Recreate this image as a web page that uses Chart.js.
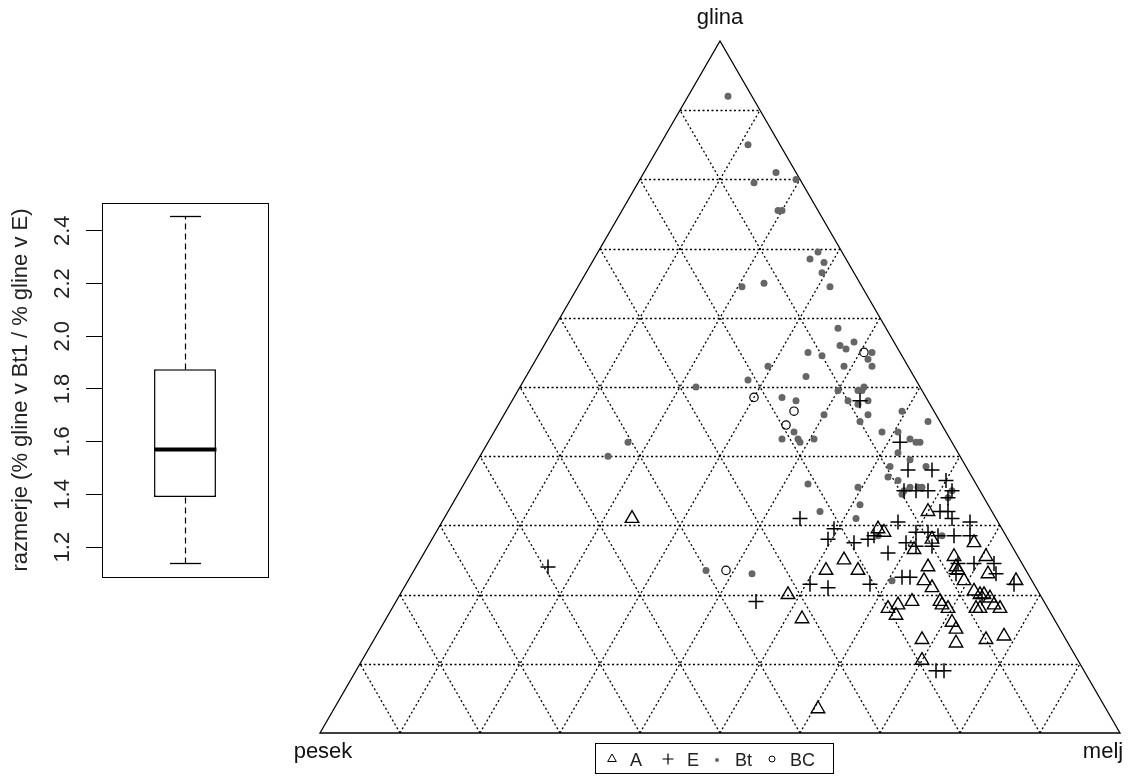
<!DOCTYPE html>
<html>
<head>
<meta charset="utf-8">
<script src="https://cdn.jsdelivr.net/npm/chart.js@4.4.1/dist/chart.umd.min.js"></script>
<style>
  html, body { margin: 0; padding: 0; background: #fff; }
  #wrap { position: relative; width: 1148px; height: 777px; overflow: hidden; }
  .pane { position: absolute; top: 0; }
</style>
</head>
<body>
<div id="wrap">
  <div class="pane" style="left:0;width:290px;height:777px"><canvas id="boxCanvas"></canvas></div>
  <div class="pane" style="left:290px;width:858px;height:777px"><canvas id="ternCanvas"></canvas></div>
</div>
<script>
// ---- boxplot data ----
const boxLabels = ['Bt1 / E'];
const boxStats = [1.14, 1.39, 1.57, 1.875, 2.455]; // low whisker, Q1, median, Q3, high whisker
const boxTicks = [1.2, 1.4, 1.6, 1.8, 2.0, 2.2, 2.4];
const boxRange = [1.0865, 2.5055];
const boxTitle = 'razmerje (% gline v Bt1 / % gline v E)';

// ---- ternary data (clay % / silt %, sand is the rest) ----
const cornerLabels = ['glina', 'pesek', 'melj'];
const gridSteps = [10, 20, 30, 40, 50, 60, 70, 80, 90];
const horizons = ['A', 'E', 'Bt', 'BC'];

const clayA = [31, 3.5, 20, 16.5, 25, 23.5, 23.5, 29.5, 29, 32, 28, 26.5, 24, 22, 21, 19, 18.5, 18, 17, 19, 18.5, 18, 16, 15, 13, 13.5, 10.5, 25.5, 24, 23.5, 22, 20.5, 20, 20, 19.5, 18, 18, 18.5, 18, 13.5, 14, 27.5, 25.5, 23, 22];
const siltA = [23.5, 60.5, 48.5, 52, 53, 51.5, 55.5, 55, 56, 60, 62.5, 61, 64, 64.5, 66, 64.5, 63, 62, 63.5, 68, 68.5, 69.5, 71, 72, 73, 68.5, 70, 66.5, 67.5, 68, 69.5, 71.5, 72.5, 73, 74, 73, 73.5, 75, 76, 76.5, 78.5, 68, 70.5, 72, 76];

const clayE = [24, 19, 31, 29.5, 28, 27.5, 28, 21.5, 21, 48, 42, 38, 38, 36.5, 35, 34, 35, 35, 35, 32, 32, 31, 30.5, 28.5, 30.5, 28.5, 29, 29, 28.5, 28.5, 27.5, 26, 21.5, 22.5, 22.5, 27, 27, 24.5, 23, 24.5, 24.5, 23, 21.5, 9, 9, 19.5];
const siltE = [16.5, 45, 44.5, 49.5, 49.5, 53, 54.5, 50.5, 53, 43.5, 51.5, 54.5, 57.5, 60, 61.5, 61.5, 55.5, 57, 58.5, 61.5, 62.5, 63.5, 66, 67, 57, 55, 60, 61.5, 63, 65, 59.5, 58, 58, 61.5, 62.5, 61, 63, 67.5, 68, 69.5, 72, 73, 76, 72.5, 73.5, 73];

const clayBt = [92, 85, 81, 79.5, 80, 75.5, 75.5, 69.5, 68.5, 68, 66.5, 64.5, 64.5, 65, 58.5, 56.5, 56, 55.5, 55, 54.5, 55, 54, 53, 53, 53, 51, 51.5, 50, 49.5, 49.5, 49.5, 50, 48, 47.5, 48, 48.5, 48, 46, 46, 45, 43.5, 42.5, 42.5, 42, 42.5, 42, 40, 46.5, 45, 43.5, 43.5, 42.5, 42, 42, 40.5, 39.5, 38.5, 38.5, 37, 36.5, 35.5, 35.5, 35.5, 35.5, 34.5, 35, 33, 34, 35, 31, 36, 32, 28.5, 28.5, 22, 23.5, 23];
const siltBt = [5, 11, 16.5, 14.5, 19.5, 19.5, 20, 27.5, 27, 29, 29.5, 31.5, 20.5, 23, 35.5, 38.5, 37, 38, 33.5, 35.5, 41.5, 41.5, 42.5, 39, 29.5, 28, 35, 22, 40, 42.5, 43, 43, 42, 43.5, 44.5, 33.5, 35.5, 40, 45.5, 45, 37.5, 36.5, 38.5, 39, 40.5, 17.5, 16, 49.5, 53.5, 48.5, 50.5, 52.5, 53.5, 54, 52, 54, 56.5, 52, 52.5, 54, 49.5, 56, 57, 57.5, 55.5, 55.5, 51, 61.5, 61.5, 51.5, 43, 46.5, 55.5, 63.5, 60.5, 36.5, 42.5];

const clayBC = [55, 48.5, 46.5, 44.5, 23.5];
const siltBC = [40.5, 30, 36, 36, 39];

const FONT = '"Liberation Sans", Arial, sans-serif';
const SQ3 = Math.sqrt(3);
const BT_GREY = '#666666';

// ---------------- boxplot ----------------
const boxPlugin = {
  id: 'boxParts',
  afterDatasetsDraw(chart) {
    const { ctx, chartArea: a, scales: { y } } = chart;
    const bar = chart.getDatasetMeta(0).data[0];
    const cx = Math.round(bar.x) + 0.5, half = bar.width / 2;
    const py = v => Math.round(y.getPixelForValue(v)) + 0.5;
    const seg = (x1, y1, x2, y2) => { ctx.beginPath(); ctx.moveTo(x1, y1); ctx.lineTo(x2, y2); ctx.stroke(); };

    ctx.save();
    ctx.strokeStyle = '#000';
    ctx.lineWidth = 1.2;
    ctx.setLineDash([6, 4]);
    seg(cx, py(boxStats[3]), cx, py(boxStats[4]));
    seg(cx, py(boxStats[1]), cx, py(boxStats[0]));
    ctx.setLineDash([]);
    ctx.lineWidth = 1.3;
    seg(cx - half / 2, py(boxStats[4]), cx + half / 2, py(boxStats[4]));
    seg(cx - half / 2, py(boxStats[0]), cx + half / 2, py(boxStats[0]));
    ctx.lineWidth = 4;
    seg(cx - half, y.getPixelForValue(boxStats[2]), cx + half, y.getPixelForValue(boxStats[2]));

    // frame
    ctx.lineWidth = 1;
    ctx.strokeRect(a.left + 0.5, a.top + 0.5, a.width, a.height);

    // tick labels, written upright like R does
    ctx.fillStyle = '#222';
    ctx.font = '22px ' + FONT;
    ctx.textAlign = 'center';
    ctx.textBaseline = 'middle';
    boxTicks.forEach(v => {
      ctx.save();
      ctx.translate(a.left - 39, y.getPixelForValue(v));
      ctx.rotate(-Math.PI / 2);
      ctx.fillText(v.toFixed(1), 0, 0);
      ctx.restore();
    });
    ctx.save();
    ctx.translate(21, (a.top + a.bottom) / 2);
    ctx.rotate(-Math.PI / 2);
    ctx.fillText(boxTitle, 0, 0);
    ctx.restore();
    ctx.restore();
  }
};

new Chart(document.getElementById('boxCanvas'), {
  type: 'bar',
  data: {
    labels: boxLabels,
    datasets: [{
      data: [[boxStats[1], boxStats[3]]],
      backgroundColor: '#fff',
      borderColor: '#000',
      borderWidth: 1.5,
      borderSkipped: false,
      barPercentage: 0.373,
      categoryPercentage: 1
    }]
  },
  options: {
    animation: false,
    responsive: true,
    maintainAspectRatio: false,
    layout: { padding: { top: 203, bottom: 200, right: 22, left: 0 } },
    plugins: { legend: { display: false }, tooltip: { enabled: false } },
    scales: {
      x: { display: false },
      y: {
        min: boxRange[0], max: boxRange[1],
        afterBuildTicks: s => { s.ticks = boxTicks.map(v => ({ value: v })); },
        afterFit: s => { s.width = 102; },
        ticks: { display: false },
        grid: { drawOnChartArea: false, tickLength: 16, color: '#000', lineWidth: 1 },
        border: { display: false }
      }
    }
  },
  plugins: [boxPlugin]
});

// ---------------- ternary plot ----------------
function toXY(clay, silt) {
  return clay.map((c, i) => ({ x: silt[i] + c / 2, y: c * SQ3 / 2 }));
}

const ternPlugin = {
  id: 'ternFrame',
  beforeDatasetsDraw(chart) {
    const { ctx, scales: { x, y } } = chart;
    const P = (clay, silt) => [x.getPixelForValue(silt + clay / 2), y.getPixelForValue(clay * SQ3 / 2)];
    const seg = (p, q) => { ctx.beginPath(); ctx.moveTo(p[0], p[1]); ctx.lineTo(q[0], q[1]); ctx.stroke(); };
    ctx.save();
    ctx.strokeStyle = '#000';
    ctx.lineWidth = 1.3;
    ctx.setLineDash([2, 2.5]);
    gridSteps.forEach(k => {
      const hy = Math.round(y.getPixelForValue(k * SQ3 / 2)) + 0.5;
      const a = P(k, 0), b = P(k, 100 - k);
      seg([a[0], hy], [b[0], hy]);            // clay lines
      seg(P(0, k), P(100 - k, k));            // silt lines
      seg(P(0, 100 - k), P(100 - k, 0));      // sand lines
    });
    ctx.setLineDash([]);
    ctx.lineWidth = 1.3;
    const top = P(100, 0), left = P(0, 0), right = P(0, 100);
    ctx.beginPath();
    ctx.moveTo(top[0], top[1]); ctx.lineTo(right[0], right[1]); ctx.lineTo(left[0], left[1]); ctx.closePath();
    ctx.stroke();

    ctx.fillStyle = '#111';
    ctx.font = '22px ' + FONT;
    ctx.textAlign = 'center';
    ctx.textBaseline = 'alphabetic';
    ctx.fillText(cornerLabels[0], top[0], top[1] - 17);
    ctx.fillText(cornerLabels[1], left[0] + 3, left[1] + 25);
    ctx.fillText(cornerLabels[2], right[0] - 17, right[1] + 25);
    ctx.restore();
  },
  afterDraw(chart) {
    const { ctx } = chart;
    ctx.save();
    ctx.strokeStyle = '#000';
    ctx.lineWidth = 1;
    ctx.strokeRect(305.5, 743.5, 238, 30);
    const syms = [
      { x: 322, tx: 340 },
      { x: 378, tx: 397 },
      { x: 427, tx: 445 },
      { x: 482, tx: 500 }
    ];
    const yc = 759;
    // triangle
    ctx.lineWidth = 1;
    ctx.beginPath();
    ctx.moveTo(syms[0].x, yc - 5); ctx.lineTo(syms[0].x + 4.3, yc + 2.5); ctx.lineTo(syms[0].x - 4.3, yc + 2.5); ctx.closePath();
    ctx.stroke();
    // cross
    ctx.lineWidth = 1.2;
    ctx.beginPath();
    ctx.moveTo(syms[1].x - 5.5, yc); ctx.lineTo(syms[1].x + 5.5, yc);
    ctx.moveTo(syms[1].x, yc - 5.5); ctx.lineTo(syms[1].x, yc + 5.5);
    ctx.stroke();
    // dot
    ctx.fillStyle = BT_GREY;
    ctx.beginPath(); ctx.arc(syms[2].x, yc + 1, 2, 0, Math.PI * 2); ctx.fill();
    // circle
    ctx.lineWidth = 1;
    ctx.beginPath(); ctx.arc(syms[3].x, yc, 3, 0, Math.PI * 2); ctx.stroke();

    ctx.fillStyle = '#222';
    ctx.font = '18px ' + FONT;
    ctx.textAlign = 'left';
    ctx.textBaseline = 'middle';
    horizons.forEach((h, i) => ctx.fillText(h, syms[i].tx, yc + 2));
    ctx.restore();
  }
};

new Chart(document.getElementById('ternCanvas'), {
  type: 'scatter',
  data: {
    datasets: [
      { label: horizons[0], data: toXY(clayA, siltA), pointStyle: 'triangle', pointRadius: 7.8,
        borderColor: '#000', backgroundColor: 'rgba(0,0,0,0)', borderWidth: 1.4, clip: false },
      { label: horizons[1], data: toXY(clayE, siltE), pointStyle: 'cross', pointRadius: 7.5,
        borderColor: '#000', backgroundColor: '#000', borderWidth: 1.5, clip: false },
      { label: horizons[2], data: toXY(clayBt, siltBt), pointStyle: 'circle', pointRadius: 3.5,
        borderColor: BT_GREY, backgroundColor: BT_GREY, borderWidth: 0, clip: false },
      { label: horizons[3], data: toXY(clayBC, siltBC), pointStyle: 'circle', pointRadius: 4.2,
        borderColor: '#000', backgroundColor: 'rgba(0,0,0,0)', borderWidth: 1.2, clip: false }
    ]
  },
  options: {
    animation: false,
    responsive: true,
    maintainAspectRatio: false,
    layout: { padding: { left: 30, right: 28, top: 41, bottom: 44 } },
    plugins: { legend: { display: false }, tooltip: { enabled: false } },
    scales: {
      x: { type: 'linear', min: 0, max: 100, display: false },
      y: { type: 'linear', min: 0, max: 50 * SQ3, display: false }
    }
  },
  plugins: [ternPlugin]
});
</script>
</body>
</html>
